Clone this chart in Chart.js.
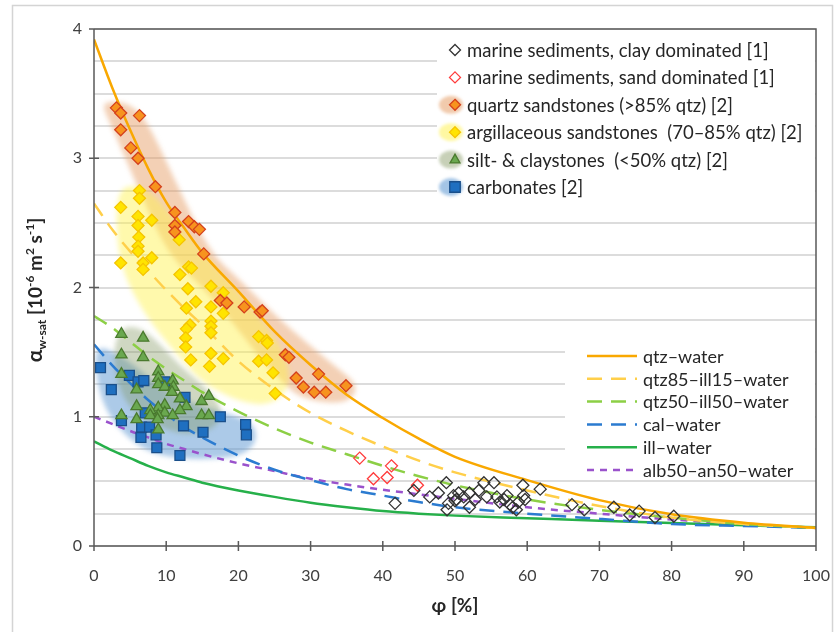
<!DOCTYPE html>
<html lang="en">
  <head>
    <meta charset="UTF-8" />
    <title>Thermal diffusivity vs porosity</title>
    <script src="https://cdn.jsdelivr.net/npm/chart.js"></script>
    <style>
      body {
        margin: 0;
        background-color: #ffffff;
        font-family: Lato, sans-serif;
      }
      #wrap {
        position: relative;
        width: 838px;
        height: 632px;
      }
    </style>
  </head>
  <body>
    <div id="wrap">
      <canvas id="chart" width="838" height="632"></canvas>
    </div>

    <script>
      const curveX = [0, 2.5, 5, 7.5, 10, 12.5, 15, 20, 25, 30, 35, 40, 45, 50, 60, 70, 80, 90, 100];
      const qtzWater = [3.92, 3.55, 3.22, 2.92, 2.66, 2.46, 2.27, 1.97, 1.66, 1.4, 1.17, 0.99, 0.83, 0.69, 0.51, 0.355, 0.245, 0.18, 0.14];
      const qtz85Water = [2.65, 2.45, 2.28, 2.13, 1.98, 1.84, 1.71, 1.43, 1.21, 1.03, 0.89, 0.77, 0.66, 0.57, 0.43, 0.31, 0.22, 0.17, 0.14];
      const qtz50Water = [1.78, 1.69, 1.58, 1.47, 1.37, 1.28, 1.19, 1.04, 0.91, 0.8, 0.71, 0.62, 0.54, 0.47, 0.36, 0.28, 0.22, 0.17, 0.14];
      const calWater = [1.56, 1.4, 1.26, 1.13, 1.02, 0.92, 0.84, 0.7, 0.59, 0.51, 0.44, 0.39, 0.34, 0.3, 0.25, 0.21, 0.17, 0.155, 0.14];
      const illWater = [0.81, 0.74, 0.68, 0.62, 0.57, 0.53, 0.49, 0.43, 0.38, 0.335, 0.3, 0.27, 0.25, 0.235, 0.215, 0.195, 0.177, 0.16, 0.145];
      const albWater = [1.0, 0.945, 0.89, 0.84, 0.79, 0.75, 0.71, 0.64, 0.58, 0.52, 0.475, 0.435, 0.4, 0.365, 0.3, 0.25, 0.205, 0.17, 0.14];

      // measured samples [porosity %, diffusivity]
      const claySeds = [
        [41.7, 0.33], [44.3, 0.43], [46.5, 0.38], [47.7, 0.41], [48.8, 0.49], [49.1, 0.33],
        [48.9, 0.28], [49.8, 0.39], [50.0, 0.35], [50.5, 0.41], [50.2, 0.36], [51.2, 0.38],
        [52.0, 0.41], [52.0, 0.3], [52.8, 0.36], [53.3, 0.43], [54.0, 0.49], [55.4, 0.49],
        [54.4, 0.38], [55.8, 0.38], [56.2, 0.34], [56.8, 0.36], [57.2, 0.39], [57.6, 0.32],
        [58.0, 0.3], [58.5, 0.28], [58.8, 0.34], [59.4, 0.47], [59.5, 0.39], [59.7, 0.36],
        [61.8, 0.44], [66.2, 0.32], [67.9, 0.28], [72.0, 0.3], [74.2, 0.24], [75.5, 0.27],
        [77.7, 0.22], [80.3, 0.23]
      ];
      const sandSeds = [[36.8, 0.68], [38.7, 0.52], [40.6, 0.53], [41.2, 0.62], [44.8, 0.47]];
      const quartzSst = [
        [3.1, 3.39], [3.7, 3.35], [6.3, 3.33], [3.7, 3.22], [5.1, 3.08], [6.1, 3.0],
        [8.5, 2.78], [11.2, 2.58], [11.2, 2.48], [11.2, 2.43], [13.1, 2.51], [13.9, 2.47],
        [14.6, 2.45], [15.2, 2.26], [17.5, 1.9], [18.4, 1.88], [20.8, 1.85], [23.0, 1.81],
        [23.3, 1.82], [26.5, 1.48], [27.0, 1.46], [28.0, 1.3], [31.1, 1.33], [29.0, 1.23],
        [30.5, 1.19], [32.1, 1.19], [34.9, 1.24]
      ];
      const argSst = [
        [3.7, 2.62], [6.3, 2.75], [6.3, 2.69], [6.1, 2.55], [8.0, 2.52], [6.1, 2.48],
        [6.2, 2.39], [6.1, 2.32], [6.1, 2.28], [11.8, 2.37], [8.0, 2.23], [3.7, 2.19],
        [6.8, 2.19], [6.8, 2.14], [11.9, 2.1], [13.1, 2.16], [13.5, 2.15], [13.0, 1.99],
        [14.1, 1.89], [12.8, 1.84], [16.2, 2.01], [17.9, 1.96], [16.2, 1.85], [17.9, 1.8],
        [13.3, 1.71], [12.8, 1.68], [12.7, 1.61], [12.7, 1.54], [16.2, 1.74], [16.2, 1.7],
        [16.2, 1.65], [13.4, 1.44], [16.2, 1.49], [16.0, 1.39], [17.9, 1.45], [22.8, 1.62],
        [23.9, 1.59], [24.0, 1.57], [22.8, 1.43], [23.9, 1.44], [24.8, 1.34], [25.1, 1.18]
      ];
      const siltClay = [
        [3.8, 1.64], [6.8, 1.61], [3.8, 1.48], [6.8, 1.46], [3.8, 1.33], [8.9, 1.35],
        [8.9, 1.3], [10.9, 1.28], [5.9, 1.21], [8.9, 1.25], [9.8, 1.23], [11.0, 1.23],
        [10.8, 1.19], [11.9, 1.14], [15.9, 1.16], [14.9, 1.12], [12.8, 1.08], [11.9, 1.05],
        [9.8, 1.09], [8.9, 1.07], [7.8, 1.05], [5.9, 1.08], [9.8, 1.03], [8.9, 1.01],
        [7.8, 1.01], [10.9, 1.01], [14.9, 1.01], [15.9, 1.01], [3.8, 1.01], [5.9, 0.98],
        [8.8, 0.98], [8.9, 0.9]
      ];
      const carbonates = [
        [0.9, 1.38], [2.4, 1.21], [4.9, 1.32], [6.1, 1.27], [6.9, 1.28], [9.8, 1.27],
        [12.6, 1.15], [3.8, 0.97], [6.6, 0.92], [7.7, 0.92], [6.5, 0.84], [8.6, 0.86],
        [8.7, 0.76], [7.1, 1.03], [12.4, 0.93], [15.1, 0.88], [17.5, 1.0], [11.9, 0.7],
        [21.0, 0.94], [21.1, 0.86]
      ];

      // shaded envelopes round the sample groups [porosity %, diffusivity]
      const quartzArea = [
        [4.7, 3.43], [7.3, 3.3], [11.6, 2.78], [16.1, 2.27], [20.2, 2.06], [24.8, 1.8],
        [29.5, 1.57], [34.1, 1.36], [35.9, 1.28], [36.4, 1.19], [34.8, 1.11], [32.0, 1.11],
        [28.5, 1.15], [26.2, 1.26], [22.3, 1.5], [18.8, 1.76], [14.7, 2.02], [10.1, 2.27],
        [6.0, 2.78], [2.2, 3.28], [1.25, 3.39], [1.7, 3.44]
      ];
      const argArea = [
        [4.7, 2.79], [7.1, 2.77], [9.8, 2.63], [12.6, 2.42], [16.8, 2.17], [20.9, 1.9],
        [24.4, 1.67], [26.5, 1.48], [27.2, 1.28], [26.0, 1.15], [23.7, 1.09], [20.9, 1.11],
        [18.1, 1.17], [14.7, 1.28], [10.9, 1.52], [7.3, 1.77], [4.6, 2.04], [3.3, 2.29],
        [3.05, 2.6], [3.6, 2.74]
      ];
      const siltArea = [
        [4.0, 1.7], [6.5, 1.69], [9.0, 1.57], [12.0, 1.39], [15.0, 1.25], [17.0, 1.13],
        [17.8, 1.02], [16.5, 0.9], [13.0, 0.86], [10.0, 0.9], [7.0, 0.98], [4.5, 1.1],
        [3.0, 1.3], [2.7, 1.55]
      ];
      const carbArea = [
        [0.3, 1.55], [3.0, 1.5], [6.0, 1.38], [9.0, 1.24], [12.0, 1.14], [16.0, 1.06],
        [20.0, 1.0], [22.3, 0.93], [22.5, 0.8], [20.5, 0.7], [16.0, 0.67], [11.0, 0.68],
        [7.0, 0.74], [3.5, 0.9], [1.2, 1.1], [0.2, 1.35]
      ];

      const xTicks = [0, 10, 20, 30, 40, 50, 60, 70, 80, 90, 100];
      const yTicks = [0, 1, 2, 3, 4];

      const AXIS = "#595959";
      const FONT = "Lato, 'Open Sans', sans-serif";

      const pts = (arr) => arr.map((p) => ({ x: p[0], y: p[1] }));
      const curve = (vals) => curveX.map((x, i) => ({ x: x, y: vals[i] }));

      const areas = [
        { pts: quartzArea, color: "rgba(228,150,90,0.45)" },
        { pts: argArea, color: "rgba(255,242,70,0.45)" },
        { pts: carbArea, color: "rgba(90,150,210,0.5)" },
        { pts: siltArea, color: "rgba(130,150,95,0.38)" },
      ];

      const pointLegend = [
        { label: "marine sediments, clay dominated [1]", style: "rectRot", fill: "#ffffff", stroke: "#333333" },
        { label: "marine sediments, sand dominated [1]", style: "rectRot", fill: "#ffffff", stroke: "#ff3b3b" },
        { label: "quartz sandstones (>85% qtz) [2]", style: "rectRot", fill: "#f7931e", stroke: "#d4401c", area: "rgba(228,150,90,0.5)" },
        { label: "argillaceous sandstones  (70\u201385% qtz) [2]", style: "rectRot", fill: "#ffe400", stroke: "#f5c400", area: "rgba(255,242,70,0.5)" },
        { label: "silt- & claystones  (<50% qtz) [2]", style: "triangle", fill: "#6aa84f", stroke: "#4a7a2e", area: "rgba(130,150,95,0.45)" },
        { label: "carbonates [2]", style: "rect", fill: "#1f6fc0", stroke: "#1a4f8a", area: "rgba(90,150,210,0.55)" },
      ];

      const lineLegend = [
        { label: "qtz\u2013water", color: "#f9a800", dash: [] },
        { label: "qtz85\u2013ill15\u2013water", color: "#ffcf4a", dash: [15, 9] },
        { label: "qtz50\u2013ill50\u2013water", color: "#8ccf45", dash: [15, 9] },
        { label: "cal\u2013water", color: "#2b7bd0", dash: [15, 9] },
        { label: "ill\u2013water", color: "#26b04a", dash: [] },
        { label: "alb50\u2013an50\u2013water", color: "#9a52cc", dash: [7, 6] },
      ];

      function marker(ctx, style, x, y, r, fill, stroke) {
        ctx.save();
        ctx.beginPath();
        if (style === "rectRot") {
          ctx.moveTo(x, y - r);
          ctx.lineTo(x + r, y);
          ctx.lineTo(x, y + r);
          ctx.lineTo(x - r, y);
        } else if (style === "triangle") {
          ctx.moveTo(x, y - r);
          ctx.lineTo(x + r * 0.9, y + r * 0.6);
          ctx.lineTo(x - r * 0.9, y + r * 0.6);
        } else {
          const s = r * 0.75;
          ctx.rect(x - s, y - s, 2 * s, 2 * s);
        }
        ctx.closePath();
        ctx.fillStyle = fill;
        ctx.fill();
        ctx.lineWidth = 1.3;
        ctx.strokeStyle = stroke;
        ctx.stroke();
        ctx.restore();
      }

      const areaPlugin = {
        id: "areas",
        beforeDatasetsDraw(chart) {
          const { ctx, chartArea, scales } = chart;
          ctx.save();
          ctx.beginPath();
          ctx.rect(chartArea.left, chartArea.top, chartArea.right - chartArea.left, chartArea.bottom - chartArea.top);
          ctx.clip();
          ctx.filter = "blur(2.5px)";
          areas.forEach((a) => {
            const p = a.pts.map((d) => [scales.x.getPixelForValue(d[0]), scales.y.getPixelForValue(d[1])]);
            const n = p.length;
            ctx.beginPath();
            ctx.moveTo((p[n - 1][0] + p[0][0]) / 2, (p[n - 1][1] + p[0][1]) / 2);
            for (let i = 0; i < n; i++) {
              const q = p[(i + 1) % n];
              ctx.quadraticCurveTo(p[i][0], p[i][1], (p[i][0] + q[0]) / 2, (p[i][1] + q[1]) / 2);
            }
            ctx.fillStyle = a.color;
            ctx.fill();
          });
          ctx.restore();
        },
      };

      const framePlugin = {
        id: "frame",
        beforeDraw(chart) {
          const ctx = chart.ctx;
          ctx.save();
          ctx.fillStyle = "#ffffff";
          ctx.fillRect(0, 0, chart.width, chart.height);
          ctx.strokeStyle = "#d4d4d4";
          ctx.lineWidth = 1.5;
          ctx.strokeRect(12.5, 5.5, 820, 700);
          ctx.restore();
        },
        afterDraw(chart) {
          const { ctx, chartArea: a, scales } = chart;
          ctx.save();
          ctx.strokeStyle = AXIS;
          ctx.lineWidth = 1.5;
          ctx.beginPath();
          ctx.moveTo(a.left, a.top);
          ctx.lineTo(a.right, a.top);
          ctx.lineTo(a.right, a.bottom);
          ctx.moveTo(a.left, a.top);
          ctx.lineTo(a.left, a.bottom);
          ctx.lineTo(a.right, a.bottom);
          yTicks.forEach((v) => {
            const py = scales.y.getPixelForValue(v);
            ctx.moveTo(a.left - 5, py);
            ctx.lineTo(a.left + 5, py);
          });
          xTicks.forEach((v) => {
            const px = scales.x.getPixelForValue(v);
            ctx.moveTo(px, a.bottom - 5);
            ctx.lineTo(px, a.bottom + 5);
          });
          ctx.stroke();

          // axis titles
          ctx.fillStyle = "#262626";
          ctx.textBaseline = "alphabetic";
          ctx.textAlign = "center";
          ctx.font = "bold 19px " + FONT;
          ctx.fillText("\u03c6 [%]", 455, 612);

          const parts = [
            { t: "\u03b1", size: 21, dy: 0 },
            { t: "w-sat", size: 12, dy: 4 },
            { t: " [10", size: 19, dy: 0 },
            { t: "-6", size: 12, dy: -8 },
            { t: " m", size: 19, dy: 0 },
            { t: "2", size: 12, dy: -8 },
            { t: " s", size: 19, dy: 0 },
            { t: "-1", size: 12, dy: -8 },
            { t: "]", size: 19, dy: 0 },
          ];
          let total = 0;
          parts.forEach((p) => {
            ctx.font = "bold " + p.size + "px " + FONT;
            p.w = ctx.measureText(p.t).width;
            total += p.w;
          });
          ctx.translate(42, 290);
          ctx.rotate(-Math.PI / 2);
          ctx.textAlign = "left";
          let cx = -total / 2;
          parts.forEach((p) => {
            ctx.font = "bold " + p.size + "px " + FONT;
            ctx.fillText(p.t, cx, p.dy);
            cx += p.w;
          });
          ctx.restore();
        },
      };

      const legendPlugin = {
        id: "boxes",
        afterDatasetsDraw(chart) {
          const ctx = chart.ctx;
          const right = chart.chartArea.right - 1;
          ctx.save();
          ctx.fillStyle = "#ffffff";
          ctx.fillRect(437, 31, right - 437, 175);
          ctx.fillRect(565, 338, right - 565, 138);

          ctx.textBaseline = "middle";
          ctx.textAlign = "left";
          ctx.font = "18.5px " + FONT;
          pointLegend.forEach((e, i) => {
            const y = 50 + i * 27.4;
            if (e.area) {
              ctx.save();
              ctx.filter = "blur(1.5px)";
              ctx.fillStyle = e.area;
              ctx.beginPath();
              ctx.ellipse(451, y, 12, 9, 0, 0, Math.PI * 2);
              ctx.fill();
              ctx.restore();
            }
            marker(ctx, e.style, 455, y, e.style === "rect" ? 7 : 5.5, e.fill, e.stroke);
            ctx.fillStyle = "#262626";
            ctx.fillText(e.label, 467, y + 1);
          });

          ctx.font = "18px " + FONT;
          lineLegend.forEach((e, i) => {
            const y = 356 + i * 22.8;
            ctx.save();
            ctx.strokeStyle = e.color;
            ctx.lineWidth = 2.5;
            ctx.setLineDash(e.dash);
            ctx.beginPath();
            ctx.moveTo(587, y);
            ctx.lineTo(637, y);
            ctx.stroke();
            ctx.restore();
            ctx.fillStyle = "#262626";
            ctx.fillText(e.label, 643, y + 1);
          });
          ctx.restore();
        },
      };

      function lineSet(label, vals, style) {
        return {
          label: label,
          data: curve(vals),
          showLine: true,
          borderColor: style.color,
          borderWidth: 2.5,
          borderDash: style.dash,
          pointRadius: 0,
          fill: false,
          cubicInterpolationMode: "monotone",
          order: 10,
        };
      }

      function pointSet(label, arr, e, r) {
        return {
          label: label,
          data: pts(arr),
          pointStyle: e.style,
          pointRadius: r,
          pointBackgroundColor: e.fill,
          pointBorderColor: e.stroke,
          pointBorderWidth: 1.3,
          showLine: false,
          order: 1,
        };
      }

      new Chart(document.getElementById("chart"), {
        type: "scatter",
        data: {
          datasets: [
            lineSet("qtz-water", qtzWater, lineLegend[0]),
            lineSet("qtz85-ill15-water", qtz85Water, lineLegend[1]),
            lineSet("qtz50-ill50-water", qtz50Water, lineLegend[2]),
            lineSet("cal-water", calWater, lineLegend[3]),
            lineSet("ill-water", illWater, lineLegend[4]),
            lineSet("alb50-an50-water", albWater, lineLegend[5]),
            pointSet("clay", claySeds, { style: "rectRot", fill: "rgba(255,255,255,0)", stroke: "#333333" }, 6),
            pointSet("sand", sandSeds, { style: "rectRot", fill: "rgba(255,255,255,0)", stroke: "#ff3b3b" }, 6),
            pointSet("quartz", quartzSst, pointLegend[2], 6),
            pointSet("argillaceous", argSst, pointLegend[3], 6),
            pointSet("silt", siltClay, pointLegend[4], 6.5),
            pointSet("carbonates", carbonates, pointLegend[5], 7),
          ],
        },
        options: {
          responsive: false,
          animation: false,
          layout: { padding: { top: 29, right: 22, left: 0, bottom: 0 } },
          plugins: {
            legend: { display: false },
            tooltip: { enabled: false },
          },
          scales: {
            x: {
              type: "linear",
              min: 0,
              max: 100,
              afterFit: (s) => {
                s.height = 86;
                s.paddingLeft = 0;
                s.paddingRight = 0;
              },
              afterBuildTicks: (s) => {
                s.ticks = xTicks.map((v) => ({ value: v }));
              },
              grid: { display: false, drawTicks: false },
              border: { display: false },
              ticks: {
                padding: 20,
                color: "#404040",
                font: { family: FONT, size: 16 },
                maxRotation: 0,
              },
            },
            y: {
              type: "linear",
              min: 0,
              max: 4,
              afterFit: (s) => {
                s.width = 94;
                s.paddingTop = 0;
                s.paddingBottom = 0;
              },
              grid: { color: "#dcdcdc", lineWidth: 2, drawTicks: false },
              border: { display: false },
              ticks: {
                stepSize: 0.25,
                padding: 12,
                color: "#404040",
                font: { family: FONT, size: 16 },
                callback: (v) => (Number.isInteger(v) ? v : ""),
              },
            },
          },
        },
        plugins: [framePlugin, areaPlugin, legendPlugin],
      });
    </script>
  </body>
</html>
